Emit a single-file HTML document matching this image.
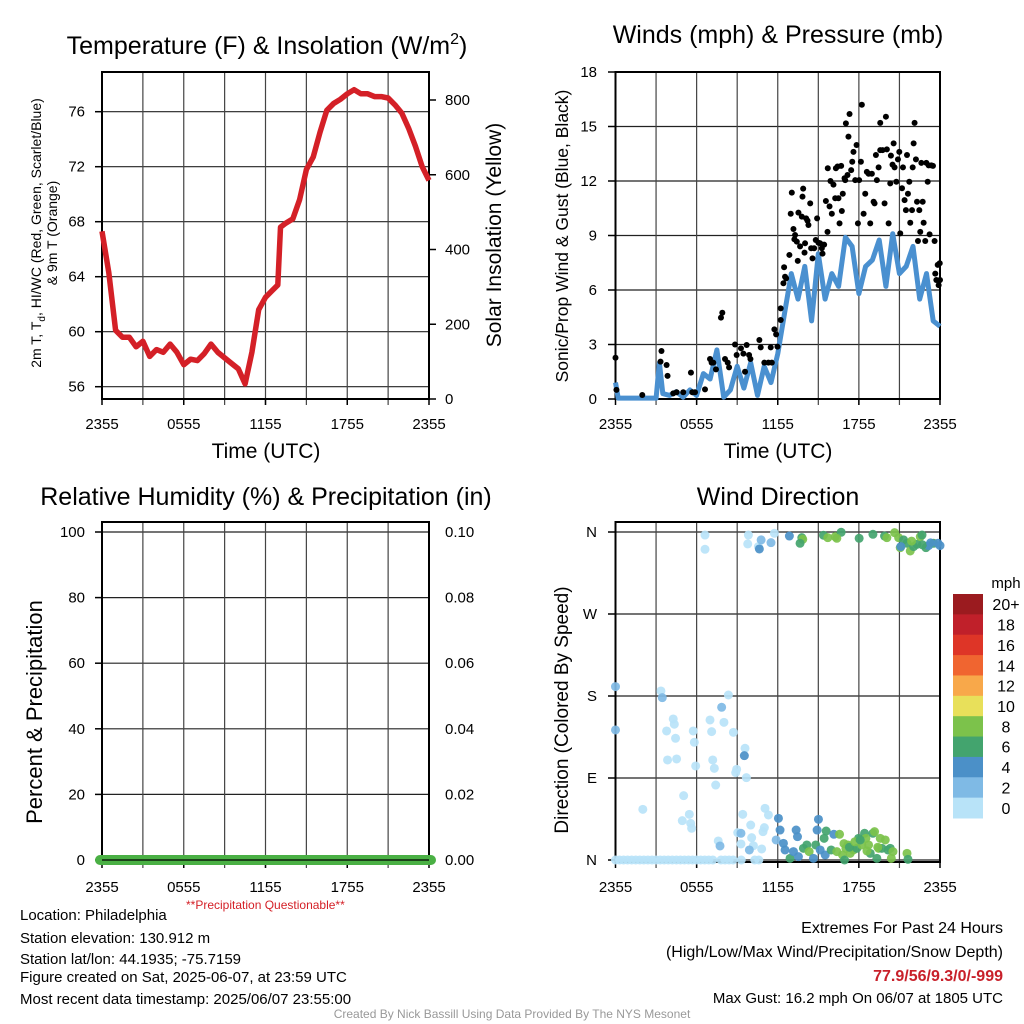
<!DOCTYPE html>
<html><head><meta charset="utf-8">
<style>
html,body{margin:0;padding:0;background:#fff;}
svg{display:block;font-family:"Liberation Sans",Arial,sans-serif;}
</style></head>
<body>
<svg id="fig" width="1024" height="1024" viewBox="0 0 1024 1024" xmlns="http://www.w3.org/2000/svg">
<g id="g1"></g>
<g id="g2"></g>
<g id="g3"></g>
<g id="g4"></g>
<g id="txt">
<text x="20" y="920" font-size="15">Location: Philadelphia</text>
<text x="186" y="909" font-size="12" fill="#d42027">**Precipitation Questionable**</text>
<text x="20" y="943" font-size="15">Station elevation: 130.912 m</text>
<text x="20" y="964" font-size="15">Station lat/lon: 44.1935; -75.7159</text>
<text x="20" y="982" font-size="15">Figure created on Sat, 2025-06-07, at 23:59 UTC</text>
<text x="20" y="1004" font-size="15">Most recent data timestamp: 2025/06/07 23:55:00</text>
<text x="1003" y="933" font-size="16" text-anchor="end">Extremes For Past 24 Hours</text>
<text x="1003" y="957" font-size="16" text-anchor="end">(High/Low/Max Wind/Precipitation/Snow Depth)</text>
<text x="1003" y="981" font-size="16" font-weight="bold" fill="#c8202a" text-anchor="end">77.9/56/9.3/0/-999</text>
<text x="1003" y="1003" font-size="15" text-anchor="end">Max Gust: 16.2 mph On 06/07 at 1805 UTC</text>
<text x="512" y="1018" font-size="12" fill="#999" text-anchor="middle">Created By Nick Bassill Using Data Provided By The NYS Mesonet</text>
</g>
</svg>
<script>
// ---- data ----
const tempTime=[0,0.5,1,1.5,2,2.5,3,3.5,4,4.5,5,5.5,6,6.5,7,7.5,8,8.5,9,9.5,10,10.5,11,11.5,12,12.5,12.9,13.1,13.5,14,14.5,15,15.5,16,16.5,17,17.5,18,18.5,19,19.5,20,20.5,21,21.5,22,22.5,23,23.5,24];
const tempVals=[67.3,64.3,60.1,59.6,59.6,58.9,59.3,58.2,58.7,58.5,59.1,58.5,57.6,58.0,57.9,58.4,59.1,58.5,58.1,57.7,57.3,56.2,58.5,61.6,62.5,63.0,63.4,67.6,67.9,68.2,69.6,71.8,72.7,74.5,76.1,76.6,76.9,77.3,77.6,77.3,77.3,77.1,77.1,77.0,76.5,75.9,74.8,73.5,72.0,71.0];
const windTime=[0,0.2,0.5,1,1.5,2,2.5,3,3.25,3.5,4,4.5,5,5.5,6,6.5,7,7.5,8,8.5,9,9.5,10,10.5,11,11.5,12,12.5,13,13.5,14,14.5,15,15.5,16,16.5,17,17.5,18,18.5,19,19.5,20,20.5,21,21.5,22,22.5,23,23.5,24];
const windVals=[0.9,0.05,0.05,0.05,0.05,0.05,0.05,0.05,2.0,0.3,0.2,0.4,0.1,0.5,0.2,1.4,1.1,2.7,0.1,0.5,1.8,0.6,2.0,0.2,1.8,0.9,2.5,4.7,6.9,5.5,7.3,4.3,8.0,5.5,6.9,6.2,8.9,8.4,5.8,7.3,7.65,8.75,6.2,9.1,6.9,7.3,8.4,5.5,6.9,4.3,4.0];
const gustTime=[0,0.07,1.98,3.4,3.33,3.78,3.85,4.27,4.52,5.01,5.58,5.68,5.88,6.62,6.99,7.11,7.23,7.43,7.8,7.9,8.1,8.3,8.4,8.84,8.96,9.28,9.46,9.7,9.88,9.98,9.58,10.64,10.74,11.01,11.31,11.48,11.56,11.75,11.88,11.98,12.22,12.22,12.42,12.47,12.54,12.62,12.86,12.96,13.04,13.16,13.23,13.28,13.41,13.48,13.53,13.65,13.78,13.83,13.88,13.98,14.02,14.1,14.2,14.27,14.4,14.47,14.57,14.69,14.81,14.91,15.01,15.14,15.26,15.31,15.43,15.56,15.68,15.7,15.83,15.9,16.0,16.12,16.25,16.3,16.42,16.49,16.57,16.69,16.74,16.81,16.94,16.99,17.04,17.16,17.23,17.31,17.43,17.51,17.6,17.73,17.83,17.93,18.02,18.15,18.22,18.35,18.47,18.59,18.72,18.84,18.96,19.09,19.16,19.26,19.33,19.46,19.58,19.58,19.75,19.9,20.0,20.07,20.2,20.32,20.37,20.49,20.57,20.64,20.77,20.89,20.99,21.06,21.19,21.26,21.38,21.48,21.56,21.63,21.73,21.8,21.93,21.98,22.05,22.12,22.22,22.3,22.37,22.47,22.54,22.62,22.72,22.79,22.91,22.99,23.09,23.16,23.23,23.36,23.48,23.6,23.65,23.73,23.83,23.9,24.0,23.98];
const gustVals=[2.27,0.5,0.22,2.64,2.06,1.87,1.27,0.31,0.37,0.37,1.45,0.37,0.37,0.53,2.2,2.0,2.0,1.63,4.48,4.75,2.2,2.0,1.74,3.0,2.42,2.79,2.5,2.97,2.42,2.2,1.5,3.25,2.84,2.0,2.0,2.84,2.0,3.83,3.56,2.88,4.99,4.35,6.37,7.25,6.73,6.64,7.93,10.2,11.36,9.36,8.79,9.03,8.66,7.6,10.26,8.4,10.04,11.14,11.58,8.06,8.57,9.94,9.82,9.58,10.77,8.3,7.74,8.3,8.75,9.94,8.6,8.57,8.3,8.0,8.5,10.9,9.2,12.7,10.6,12.0,10.2,11.8,11.05,12.7,12.8,11.05,9.67,12.83,10.35,11.3,12.15,12.05,15.17,12.33,14.44,15.69,12.6,13.06,13.6,12.05,13.98,9.67,12.05,13.06,16.2,10.2,11.3,12.5,12.4,9.67,12.4,10.86,10.77,13.43,12.05,12.75,15.2,13.7,13.7,10.77,15.54,13.74,9.67,11.87,13.4,12.9,14.07,12.75,11.96,13.19,13.6,9.12,11.6,12.75,10.95,10.4,13.43,11.3,11.96,9.7,10.4,12.75,14.07,15.2,13.19,10.86,8.7,10.4,9.2,13.0,10.86,9.7,8.7,13.0,11.96,12.86,9.06,12.86,12.83,8.7,6.9,6.55,7.38,6.27,6.55,7.47,6.33];
const dirTime=[6.62,6.62,9.83,9.78,10.57,11.5,11.75,0,0,3.36,3.46,4.27,4.35,3.78,4.44,3.85,4.52,5.75,5.83,5.93,6.99,7.11,7.19,7.31,7.41,7.85,8.02,8.35,8.72,9.58,9.53,8.96,8.89,9.68,5.04,2.02,5.46,4.94,5.56,5.63,9.41,10.0,11.06,11.31,11.01,10.91,9.04,9.28,10.07,10.2,7.6,7.73,9.28,9.9,10.81,
0,0.3,0.6,0.9,1.2,1.5,1.8,2.1,2.4,2.7,3.0,3.3,3.6,3.9,4.2,4.5,4.8,5.1,5.4,5.7,6.0,6.3,6.6,6.9,7.2,7.8,8.1,8.4,8.7,9.3,10.3,10.6,
10.77,10.64,12.86,13.78,13.85,13.65,15.38,15.7,16.25,16.69,16.37,18.02,19.04,19.9,20.07,20.64,20.94,21.06,21.31,21.56,21.8,22.05,22.3,22.54,22.67,22.96,23.16,23.53,23.85,24,21.1,21.9,22.7,23.3,
12.05,12.17,11.88,12.42,12.54,12.91,13.16,13.36,13.46,13.53,13.9,14.15,14.32,14.64,14.81,15.01,14.91,15.14,15.43,15.58,15.51,15.95,16.15,16.37,16.57,16.79,16.94,17.04,17.19,17.36,17.6,17.85,17.98,18.22,18.42,18.52,18.72,18.84,19.04,19.16,19.33,19.46,19.58,19.7,19.95,20.15,20.32,20.4,20.52,21.56,21.63,16.9,17.3,17.7,18.1,18.6,19.4];
const dirDeg=[356.7,341,356.7,346.9,344,348.3,358.6,142.7,190.3,185.5,178.2,154.8,149,141.6,133.6,109.8,110.9,141.6,129.2,103.2,153.7,140.9,109.8,100.6,82.3,167.6,151.1,181.1,140.1,122.6,114.5,99.5,95.9,90.4,70.6,55.6,50.1,43.2,40.2,34.8,50.1,38.4,56.7,49.4,35.5,31.1,30,29.3,24.5,15.7,20.9,15.4,17.6,11,12.1,
0,0,0,0,0,0,0,0,0,0,0,0,0,0,0,0,0,0,0,0,0,0,0,0,0,0,0,0,0,0,0,0,
351.3,341.4,355.6,353.8,352,347.6,356.5,353.8,354.9,359.7,353.1,353.1,357.5,355.6,353.8,359.3,353.8,342.8,351.3,347.6,339.2,344,346.5,354.9,356.7,342.8,345.1,347.6,347.6,345.1,344,350,346,348,
45.7,32.9,22,18.3,11,1.8,9.2,32.9,25.6,3.7,12.8,16.5,9.2,1.8,16.5,44.6,32.9,11,23.8,31.8,5.5,11,28.2,9.2,28.2,5.5,0,12.8,16.5,7.3,11,12.8,23.8,16.5,29.3,23.8,16.5,7.3,29.3,31.1,1.8,12.8,23.8,12.8,22,11,12.8,1.8,9.2,7.3,0.7,18,14,20,22,10,14];
const dirSpeed=[1,1,1,1,1,3,1,3,3,1,3,1,1,1,1,1,1,1,1,1,1,1,1,1,1,3,1,1,1,1,5,1,1,1,1,1,1,1,1,1,1,1,1,1,1,1,1,3,1,1,1,3,1,3,1,
1,1,1,1,1,1,1,1,1,1,1,1,1,1,1,1,1,1,1,1,1,1,1,1,1,1,1,1,1,1,1,1,
3,5,5,7,9,7,7,9,9,7,9,7,7,7,9,9,9,9,7,7,9,7,7,9,7,7,5,7,5,5,5,9,7,5,
5,5,3,5,5,7,5,5,5,5,7,7,9,5,7,5,5,5,7,7,5,7,5,9,9,9,7,9,9,9,9,7,7,9,7,9,9,7,7,9,7,9,9,7,9,7,7,9,9,9,7,9,7,9,7,9,9];
const rhTicks=[0,20,40,60,80,100];
const prTicks=["0.00","0.02","0.04","0.06","0.08","0.10"];
const tempTicks=[56,60,64,68,72,76];
const solTicks=[0,200,400,600,800];
const windTicks=[0,3,6,9,12,15,18];
const dirTickLabels=["N","E","S","W","N"];
const timeLabels=["2355","0555","1155","1755","2355"];
const cbLabels=["0","2","4","6","8","10","12","14","16","18","20+"];
const cbColors=["#b8e3f8","#7fbae5","#4b90c8","#43a46e","#7cc24b","#e8e05a","#f8a84a","#f06530","#de3527","#c0202a","#9b1b1f"];

// ---- helpers ----
const NS="http://www.w3.org/2000/svg";
function mk(parent,tag,attrs,text){const e=document.createElementNS(NS,tag);for(const k in attrs)e.setAttribute(k,attrs[k]);if(text!==undefined)e.textContent=text;parent.appendChild(e);return e;}
const L=[102,429],R=[615.5,940];
const x1=h=>L[0]+h*(L[1]-L[0])/24;
const x2=h=>R[0]+h*(R[1]-R[0])/24;
const yT=v=>111.7+(76-v)*13.75;
const ySol=v=>399-v*(299/800);
const yW=v=>399-v*(327/18);
const yRH=v=>860-v*3.28;
const yD=d=>860-d*328/360;
const TF=15;

function frame(g,xs,top,bot,xf,name){
  for(let i=1;i<8;i++){const x=xf(i*3);const l=mk(g,'line',{x1:x,x2:x,y1:top,y2:bot+6,stroke:'#444','stroke-width':1.2});
  }
  const r=mk(g,'rect',{x:xs[0],y:top,width:xs[1]-xs[0],height:bot-top,fill:'none',stroke:'#000','stroke-width':2});
  
  timeLabels.forEach((t,i)=>{const x=xf(i*6);mk(g,'line',{x1:x,x2:x,y1:bot,y2:bot+6,stroke:'#000','stroke-width':1.5});
    const tx=mk(g,'text',{x:x,y:bot+30,'font-size':TF,'text-anchor':'middle'},t);
    });
}
function hgrid(g,xs,y,name){const l=mk(g,'line',{x1:xs[0],x2:xs[1],y1:y,y2:y,stroke:'#222','stroke-width':1.2});
  }
function title(g,x,y,t,name){const e=mk(g,'text',{x:x,y:y,'font-size':25,'text-anchor':'middle'});e.innerHTML=t;
  return e;}
function vtitle(g,x,y,t,size,name){const e=mk(g,'text',{x:x,y:y,'font-size':size,'text-anchor':'middle',transform:`rotate(-90 ${x} ${y})`});e.innerHTML=t;
  return e;}
function pathFrom(xs,ys,xf,yf){return xs.map((t,i)=>(i?'L':'M')+xf(t).toFixed(1)+','+yf(ys[i]).toFixed(1)).join('');}

// ---- panel 1 ----
const g1=document.getElementById('g1');
title(g1,267,54,'Temperature (F) &amp; Insolation (W/m<tspan dy="-10" font-size="16">2</tspan><tspan dy="10">)</tspan>','temperature-title');
tempTicks.forEach(v=>{hgrid(g1,L,yT(v),'temp-hgrid');mk(g1,'line',{x1:95,x2:102,y1:yT(v),y2:yT(v),stroke:'#000','stroke-width':1.5});
  const t=mk(g1,'text',{x:85,y:yT(v)+5,'font-size':TF,'text-anchor':'end'},v);});
solTicks.forEach(v=>{mk(g1,'line',{x1:429,x2:436,y1:ySol(v),y2:ySol(v),stroke:'#000','stroke-width':1.5});
  const t=mk(g1,'text',{x:445,y:ySol(v)+5,'font-size':TF},v);});
frame(g1,L,72,399,x1,'temp');
const tl=mk(g1,'path',{d:pathFrom(tempTime,tempVals,x1,yT),fill:'none',stroke:'#d42027','stroke-width':5.5,'stroke-linejoin':'round'});

vtitle(g1,41,233,'2m T, T<tspan dy="4" font-size="10">d</tspan><tspan dy="-4">, HI/WC (Red, Green, Scarlet/Blue)</tspan>',14,'temp-y-title');
vtitle(g1,57,233,'&amp; 9m T (Orange)',14,'temp-y-title-2');
vtitle(g1,501,235,'Solar Insolation (Yellow)',21,'solar-y-title');
const xt1=mk(g1,'text',{x:266,y:458,'font-size':21,'text-anchor':'middle'},'Time (UTC)');

// ---- panel 2 ----
const g2=document.getElementById('g2');
title(g2,778,43,'Winds (mph) &amp; Pressure (mb)','wind-title');
windTicks.forEach(v=>{if(v>0&&v<18)hgrid(g2,R,yW(v),'wind-hgrid');mk(g2,'line',{x1:608,x2:615,y1:yW(v),y2:yW(v),stroke:'#000','stroke-width':1.5});
  const t=mk(g2,'text',{x:597,y:yW(v)+5,'font-size':TF,'text-anchor':'end'},v);});
frame(g2,R,72,399,x2,'wind');
const wl=mk(g2,'path',{d:pathFrom(windTime,windVals,x2,yW),fill:'none',stroke:'#4a90d0','stroke-width':5,'stroke-linejoin':'round'});

gustTime.forEach((t,i)=>{const c=mk(g2,'circle',{cx:x2(t),cy:yW(gustVals[i]),r:3,fill:'#000'});
  
  });
vtitle(g2,568,236,'Sonic/Prop Wind &amp; Gust (Blue, Black)',17.5,'wind-y-title');
const xt2=mk(g2,'text',{x:778,y:458,'font-size':21,'text-anchor':'middle'},'Time (UTC)');

// ---- panel 3 ----
const g3=document.getElementById('g3');
title(g3,266,505,'Relative Humidity (%) &amp; Precipitation (in)','humidity-title');
rhTicks.forEach((v,i)=>{hgrid(g3,L,yRH(v),'rh-hgrid');mk(g3,'line',{x1:95,x2:102,y1:yRH(v),y2:yRH(v),stroke:'#000','stroke-width':1.5});
  const t=mk(g3,'text',{x:85,y:yRH(v)+5,'font-size':TF,'text-anchor':'end'},v);
  const t2=mk(g3,'text',{x:445,y:yRH(v)+5,'font-size':TF},prTicks[i]);});
frame(g3,L,522,862,x1,'rh');
const pl=mk(g3,'line',{x1:x1(0)-2,x2:x1(24)+2,y1:yRH(0),y2:yRH(0),stroke:'#4ab044','stroke-width':10,'stroke-linecap':'round'});

mk(g3,'line',{x1:102,x2:429,y1:860,y2:860,stroke:'#000','stroke-width':1.2});
vtitle(g3,42,712,'Percent &amp; Precipitation',22,'rh-y-title');

// ---- panel 4 ----
const g4=document.getElementById('g4');
title(g4,778,505,'Wind Direction','direction-title');
dirTickLabels.forEach((s,i)=>{const y=yD(i*90);hgrid(g4,R,y,'dir-hgrid');mk(g4,'line',{x1:608,x2:615,y1:y,y2:y,stroke:'#000','stroke-width':1.5});
  const t=mk(g4,'text',{x:597,y:y+5,'font-size':TF,'text-anchor':'end'},s);});
frame(g4,R,522,862,x2,'dir');
dirTime.forEach((t,i)=>{const b=Math.min(10,Math.floor(dirSpeed[i]/2));
  const c=mk(g4,'circle',{cx:x2(t),cy:yD(dirDeg[i]),r:4.5,fill:cbColors[b],'fill-opacity':0.92});
  
  });
vtitle(g4,568,710,'Direction (Colored By Speed)',19,'dir-y-title');
// colorbar
const cbTop=594,cbH=224/11;
const mph=mk(g4,'text',{x:1006,y:588,'font-size':15,'text-anchor':'middle'},'mph');
cbColors.forEach((c,i)=>{const k=10-i;const y=cbTop+i*cbH;
  const r=mk(g4,'rect',{x:953,y:y,width:30,height:cbH+0.5,fill:cbColors[k]});
  
  const t=mk(g4,'text',{x:1006,y:y+cbH/2+6,'font-size':16,'text-anchor':'middle'},cbLabels[k]);
  });
</script>
</body></html>
